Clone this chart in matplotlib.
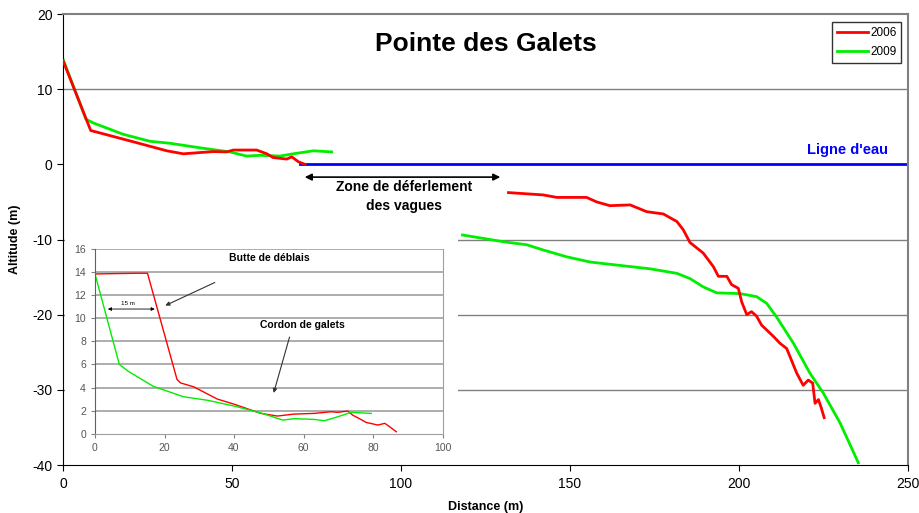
import matplotlib.pyplot as plt

plt.rcParams['font.family'] = ['Liberation Sans', 'DejaVu Sans']
plt.rcParams['axes.unicode_minus'] = False

# profil principal 2006 (cote + partie immergee)
x06_haut = [0, 8.2, 20.8, 30.7, 35.6, 38.6, 44.5, 48.4, 50.4, 57.3, 60.3, 62.2, 66.2, 67.7, 69.6, 71.6]
y06_haut = [13.8, 4.5, 3.0, 1.8, 1.4, 1.5, 1.7, 1.65, 1.9, 1.9, 1.4, 0.9, 0.7, 1.0, 0.35, 0.0]
x06_bas = [131.8, 142.1, 146.1, 154.9, 157.9, 161.8, 167.8, 172.7, 177.6, 181.6, 183.5, 185.5,
           189.4, 192.4, 193.9, 196.4, 197.8, 199.8, 200.8, 202.3, 203.7, 205.2, 206.7, 210.2,
           212.1, 214.1, 217.1, 219.0, 220.5, 221.8, 222.5, 223.5, 224.2, 225.2]
y06_bas = [-3.76, -4.07, -4.4, -4.4, -5.0, -5.5, -5.4, -6.3, -6.6, -7.6, -8.7, -10.4,
           -11.8, -13.6, -14.9, -14.9, -16.0, -16.5, -18.3, -20.0, -19.6, -20.2, -21.4, -22.9,
           -23.8, -24.5, -27.8, -29.4, -28.7, -29.1, -31.8, -31.3, -32.2, -33.7]

# profil principal 2009
x09_haut = [0, 6.8, 9, 17.8, 25.7, 31.7, 40.5, 49.4, 54.3, 58.3, 64.2, 68.1, 74.1, 79.5]
y09_haut = [14, 6.0, 5.5, 4.0, 3.07, 2.8, 2.2, 1.65, 1.1, 1.2, 1.1, 1.4, 1.8, 1.65]
x09_bas = [118.2, 130.3, 137.2, 142.1, 149.0, 156.0, 163.8, 173.7, 181.6, 185.5, 189.4, 193.4,
           200.3, 205.2, 208.2, 211.1, 216.1, 221.0, 224.9, 229.9, 235.3]
y09_bas = [-9.4, -10.3, -10.7, -11.4, -12.3, -13.0, -13.4, -13.9, -14.5, -15.2, -16.3, -17.1,
           -17.2, -17.6, -18.5, -20.3, -23.8, -27.8, -30.4, -34.4, -39.7]

# ligne d'eau
x_eau = [70.2, 250]
y_eau = [0, 0]

# encart (zoom sur la plage)
xi06 = [0, 12.0, 15.1, 23.6, 24.6, 28.4, 35.2, 40, 47.7, 52.5, 57.3, 63.1, 67.9, 69.9, 72.7,
        74.2, 76.1, 78.0, 81.4, 83.4, 84.8, 86.7]
yi06 = [13.84, 13.9, 13.9, 4.7, 4.4, 4.06, 3.0, 2.56, 1.76, 1.53, 1.7, 1.76, 1.9, 1.85, 1.96,
        1.6, 1.3, 0.98, 0.75, 0.9, 0.6, 0.17]
xi09 = [0, 7.0, 9.6, 16.8, 25.5, 32.3, 40, 47.7, 54, 57.3, 63.1, 66, 69.9, 73.7, 79.5]
yi09 = [13.84, 6.0, 5.4, 4.1, 3.2, 2.9, 2.4, 1.8, 1.18, 1.3, 1.24, 1.12, 1.47, 1.85, 1.76]

RED = '#ff0000'
GREEN = '#00ee00'
W, H = 919, 513

fig = plt.figure(figsize=(W / 100, H / 100), dpi=100)
ax = fig.add_axes([63 / W, 1 - 465 / H, (908 - 63) / W, (465 - 14) / H])

for y in [-30, -20, -10, 10]:
    ax.axhline(y, color='#808080', lw=1, zorder=0)

ax.plot(x_eau, y_eau, color='#0000ff', lw=2, zorder=2)
ax.plot(x06_haut, y06_haut, color=RED, lw=2, label='2006', zorder=3)
ax.plot(x06_bas, y06_bas, color=RED, lw=2, zorder=3)
ax.plot(x09_haut, y09_haut, color=GREEN, lw=2, label='2009', zorder=2)
ax.plot(x09_bas, y09_bas, color=GREEN, lw=2, zorder=2)

ax.set_xlim(0, 250)
ax.set_ylim(-40, 20)
ax.set_xticks([0, 50, 100, 150, 200, 250])
ax.set_yticks([-40, -30, -20, -10, 0, 10, 20])
ax.tick_params(labelsize=10, length=4, direction='out')
ax.tick_params(axis='x', pad=5)
for s in ['top', 'right']:
    ax.spines[s].set_color('#808080')
    ax.spines[s].set_linewidth(1.5)
ax.set_xlabel('Distance (m)', fontsize=9, fontweight='bold', labelpad=7)
ax.set_ylabel('Altitude (m)', fontsize=9, fontweight='bold', labelpad=8)

ax.text(125, 16.0, 'Pointe des Galets', fontsize=19, fontweight='bold', ha='center', va='center')
ax.text(232, 1.9, "Ligne d'eau", color='#0000ff', fontsize=10.5, fontweight='bold',
        ha='center', va='center')
ax.annotate('', xy=(70.7, -1.7), xytext=(130.2, -1.7),
            arrowprops=dict(arrowstyle='<|-|>', color='black', lw=1.2, mutation_scale=10))
ax.text(101, -4.3, 'Zone de déferlement\ndes vagues', fontsize=10, fontweight='bold',
        ha='center', va='center', linespacing=1.45)

leg = ax.legend(loc='upper right', bbox_to_anchor=(0.992, 0.982), fontsize=8.5, frameon=True,
                fancybox=False, edgecolor='black', handlelength=2.6, borderpad=0.4,
                labelspacing=0.6, handletextpad=0.2, borderaxespad=0)
leg.get_frame().set_linewidth(1)

# fond blanc de l'encart
bg = fig.add_axes([65 / W, 1 - 463 / H, (458 - 65) / W, (463 - 233) / H])
bg.set_facecolor('white')
bg.set_xticks([])
bg.set_yticks([])
for s in bg.spines.values():
    s.set_visible(False)

ins = fig.add_axes([95 / W, 1 - 433.7 / H, (442.5 - 95) / W, (433.7 - 249) / H])
for y in range(2, 17, 2):
    ins.axhline(y, color='#a0a0a0', lw=1.2, zorder=0)
ins.plot(xi06, yi06, color=RED, lw=1)
ins.plot(xi09, yi09, color=GREEN, lw=1)
ins.set_xlim(0, 100)
ins.set_ylim(0, 16)
ins.set_xticks(range(0, 101, 20))
ins.set_yticks(range(0, 17, 2))
ins.tick_params(labelsize=7.5, labelcolor='#555555', color='#808080', length=3)
ins.spines['top'].set_visible(False)
ins.spines['right'].set_color('#a0a0a0')
ins.spines['left'].set_color('#606060')
ins.spines['bottom'].set_color('#a0a0a0')

ins.text(50.3, 15.2, 'Butte de déblais', fontsize=7.5, fontweight='bold', ha='center', va='center')
ins.annotate('', xy=(19.5, 11.0), xytext=(35.2, 13.2),
             arrowprops=dict(arrowstyle='-|>', color='#333333', lw=0.8, mutation_scale=6))
ins.annotate('', xy=(2.9, 10.8), xytext=(18.0, 10.8),
             arrowprops=dict(arrowstyle='<|-|>', color='black', lw=0.6, mutation_scale=5))
ins.text(9.6, 11.3, '15 m', fontsize=4.5, ha='center', va='center')
ins.text(59.7, 9.4, 'Cordon de galets', fontsize=7.5, fontweight='bold', ha='center', va='center')
ins.annotate('', xy=(51.2, 3.3), xytext=(56.2, 8.6),
             arrowprops=dict(arrowstyle='-|>', color='#333333', lw=0.8, mutation_scale=6))

fig.savefig('out.png', dpi=100)
